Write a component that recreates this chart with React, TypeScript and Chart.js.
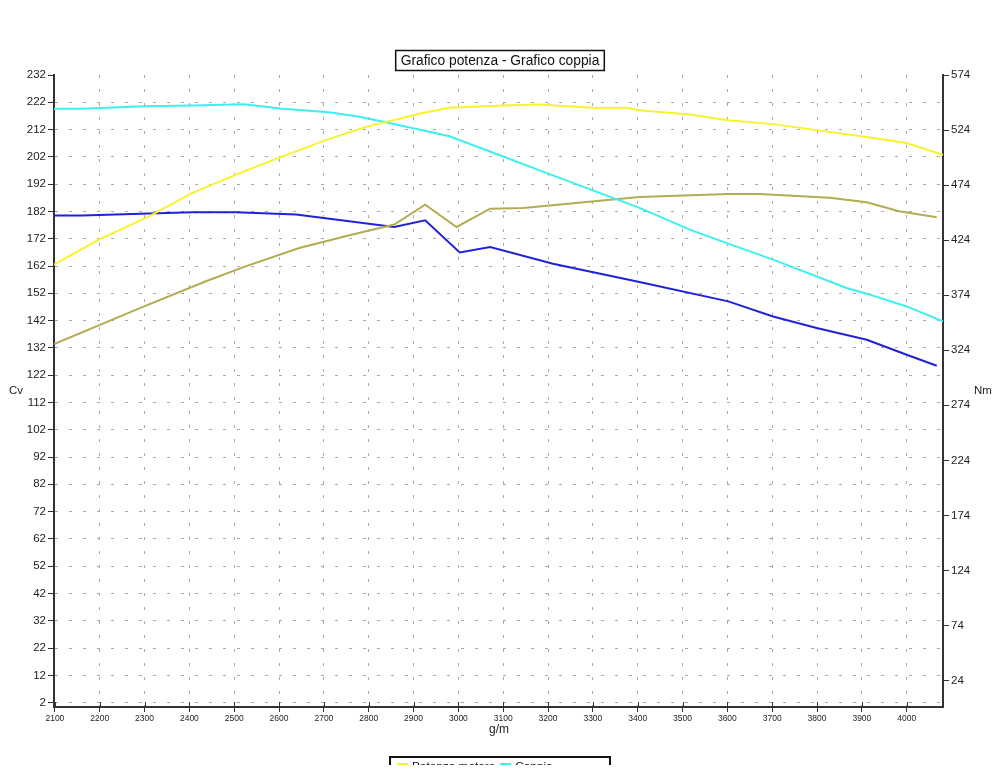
import React, { useEffect, useRef } from "react";
import { Chart, registerables } from "chart.js";

Chart.register(...registerables);

// ---- data ----
const X_TICKS = [2100, 2200, 2300, 2400, 2500, 2600, 2700, 2800, 2900, 3000, 3100, 3200, 3300, 3400, 3500, 3600, 3700, 3800, 3900, 4000];
const CV_TICKS = [2, 12, 22, 32, 42, 52, 62, 72, 82, 92, 102, 112, 122, 132, 142, 152, 162, 172, 182, 192, 202, 212, 222, 232];
const NM_TICKS = [24, 74, 124, 174, 224, 274, 324, 374, 424, 474, 524, 574];

const POTENZA_RPM = [2098, 2198, 2310, 2407, 2522, 2608, 2712, 2794, 2920, 2980, 3099, 3181, 3300, 3375, 3404, 3516, 3602, 3702, 3799, 3911, 4000, 4081];
const POTENZA_CV = [162.5, 171.7, 180.2, 188.8, 196.7, 202.2, 208.6, 213.0, 218.1, 220.0, 220.8, 221.2, 220.0, 220.0, 219.1, 217.5, 215.4, 214.0, 211.8, 209.3, 207.1, 202.8];

const COPPIA_RPM = [2098, 2161, 2299, 2407, 2522, 2608, 2712, 2779, 2846, 2920, 2980, 3069, 3196, 3404, 3516, 3602, 3702, 3866, 3911, 4000, 4081];
const COPPIA_NM = [543.3, 543.3, 545.6, 546.3, 547.5, 543.3, 540.2, 536.0, 530.5, 523.8, 518.4, 504.7, 485.1, 453.3, 433.6, 420.8, 406.3, 380.5, 375.4, 363.8, 350.2];

const POTENZA2_RPM = [2098, 2299, 2437, 2522, 2645, 2757, 2857, 2926, 2996, 3071, 3144, 3404, 3602, 3672, 3828, 3911, 3983, 4067];
const POTENZA2_CV = [133.4, 147.2, 156.4, 161.7, 168.6, 173.3, 177.2, 184.5, 176.3, 183.0, 183.3, 187.3, 188.4, 188.4, 187.0, 185.4, 182.1, 179.9];

const COPPIA2_RPM = [2098, 2161, 2310, 2407, 2504, 2638, 2857, 2926, 3003, 3071, 3211, 3404, 3602, 3702, 3799, 3911, 4000, 4067];
const COPPIA2_NM = [446.3, 446.3, 448.1, 449.3, 449.3, 447.2, 436.0, 442.0, 412.9, 417.8, 402.6, 386.0, 368.4, 354.7, 344.2, 333.5, 319.9, 309.9];

const TITLE = "Grafico potenza - Grafico coppia";
const X_TITLE = "g/m";
const LEFT_TITLE = "Cv";
const RIGHT_TITLE = "Nm";
const LEGEND_LABELS = ["Potenza motore", "Coppia"];

const COL_YELLOW = "#f6f42c";
const COL_CYAN = "#3cf0ee";
const COL_OLIVE = "#b2ac52";
const COL_BLUE = "#2121d8";
const AXIS = "#333333";
const GRID = "#a9a9a9";
const FONT = "'Liberation Sans', Arial, sans-serif";

const pts = (xs: number[], ys: number[]) => xs.map((x, i) => ({ x, y: ys[i] }));

const decorPlugin = {
  id: "decor",
  afterDraw(chart: any) {
    const ctx = chart.ctx as CanvasRenderingContext2D;
    const xs = chart.scales.x;
    const area = chart.chartArea;
    ctx.save();
    // inner part of x tick marks
    ctx.strokeStyle = AXIS;
    ctx.lineWidth = 1;
    ctx.setLineDash([]);
    X_TICKS.forEach((v) => {
      const px = Math.round(xs.getPixelForValue(v)) + 0.5;
      ctx.beginPath();
      ctx.moveTo(px, area.bottom);
      ctx.lineTo(px, area.bottom - 5);
      ctx.stroke();
    });
    // title box
    ctx.font = `13.8px ${FONT}`;
    const tw = ctx.measureText(TITLE).width;
    const bx = 500 - tw / 2 - 5;
    ctx.fillStyle = "#ffffff";
    ctx.fillRect(bx, 50.5, tw + 10, 20);
    ctx.strokeStyle = "#111";
    ctx.lineWidth = 1.5;
    ctx.strokeRect(bx, 50.5, tw + 10, 20);
    ctx.fillStyle = "#111";
    ctx.textAlign = "center";
    ctx.textBaseline = "middle";
    ctx.fillText(TITLE, 500, 61);
    // axis titles
    ctx.font = `11.5px ${FONT}`;
    ctx.fillStyle = "#222";
    ctx.fillText(LEFT_TITLE, 16, 391);
    ctx.fillText(RIGHT_TITLE, 983, 391);
    ctx.font = `12px ${FONT}`;
    ctx.fillText(X_TITLE, 499, 730);
    // legend (clipped at bottom as in picture)
    ctx.beginPath();
    ctx.rect(0, 0, 1000, 765);
    ctx.clip();
    ctx.strokeStyle = "#111";
    ctx.lineWidth = 2;
    ctx.strokeRect(390, 757, 220, 30);
    const cols = [COL_YELLOW, COL_CYAN];
    let x = 397;
    ctx.font = `11.8px ${FONT}`;
    ctx.textAlign = "left";
    ctx.textBaseline = "alphabetic";
    LEGEND_LABELS.forEach((lab, i) => {
      ctx.fillStyle = cols[i];
      ctx.fillRect(x, 763, 11, 4);
      ctx.fillStyle = "#111";
      ctx.fillText(lab, x + 15, 769.5);
      x += 15 + ctx.measureText(lab).width + 5;
    });
    ctx.restore();
  },
};

export default function App() {
  const ref = useRef<HTMLCanvasElement | null>(null);
  useEffect(() => {
    document.body.style.margin = "0";
    if (!ref.current) return;
    const chart = new Chart(ref.current, {
      type: "line",
      data: {
        datasets: [
          { label: LEGEND_LABELS[0], data: pts(POTENZA_RPM, POTENZA_CV), borderColor: COL_YELLOW, yAxisID: "y" },
          { label: LEGEND_LABELS[1], data: pts(COPPIA_RPM, COPPIA_NM), borderColor: COL_CYAN, yAxisID: "y1" },
          { label: "Potenza 2", data: pts(POTENZA2_RPM, POTENZA2_CV), borderColor: COL_OLIVE, yAxisID: "y" },
          { label: "Coppia 2", data: pts(COPPIA2_RPM, COPPIA2_NM), borderColor: COL_BLUE, yAxisID: "y1" },
        ].map((d) => ({ ...d, borderWidth: 2, pointRadius: 0, tension: 0, fill: false })),
      },
      options: {
        animation: false,
        responsive: false,
        devicePixelRatio: 1,
        layout: { padding: { top: 75, left: 0, right: 0, bottom: 0 } },
        plugins: { legend: { display: false }, title: { display: false }, tooltip: { enabled: false } },
        scales: {
          x: {
            type: "linear",
            position: "bottom",
            min: 2098,
            max: 4081,
            afterBuildTicks: (s: any) => { s.ticks = X_TICKS.map((v) => ({ value: v })); },
            afterFit: (s: any) => { s.height = 68; },
            ticks: { font: { family: FONT, size: 8.5 }, color: "#222", padding: 2, maxRotation: 0, autoSkip: false, callback: (v: any) => String(v) },
            grid: { color: GRID, lineWidth: 1, tickLength: 5, tickColor: AXIS, tickWidth: 1, tickBorderDash: [] } as any,
            border: { display: true, color: AXIS, width: 2, dash: [3, 11] },
          },
          y: {
            type: "linear",
            position: "left",
            min: 0.4,
            max: 232,
            afterBuildTicks: (s: any) => { s.ticks = CV_TICKS.map((v) => ({ value: v })); },
            afterFit: (s: any) => { s.width = 54; },
            ticks: { font: { family: FONT, size: 11.5 }, color: "#222", padding: 2, autoSkip: false, callback: (v: any) => String(v) },
            grid: {
              color: (c: any) => (c.tick && c.tick.value === 232 ? "rgba(0,0,0,0)" : GRID),
              lineWidth: 1, tickLength: 6, tickColor: AXIS, tickWidth: 1, tickBorderDash: [],
            } as any,
            border: { display: true, color: AXIS, width: 2, dash: [3, 11] },
          },
          y1: {
            type: "linear",
            position: "right",
            min: 0,
            max: 574,
            afterBuildTicks: (s: any) => { s.ticks = NM_TICKS.map((v) => ({ value: v })); },
            afterFit: (s: any) => { s.width = 57; },
            ticks: { font: { family: FONT, size: 11.5 }, color: "#222", padding: 2, autoSkip: false, callback: (v: any) => String(v) },
            grid: { drawOnChartArea: false, tickLength: 6, tickColor: AXIS, tickWidth: 1, tickBorderDash: [] } as any,
            border: { display: true, color: AXIS, width: 2 },
          },
        },
      } as any,
      plugins: [decorPlugin],
    });
    return () => chart.destroy();
  }, []);
  return (
    <div style={{ position: "relative", width: 1000, height: 775, background: "#fff" }}>
      <canvas ref={ref} width={1000} height={775} style={{ display: "block" }} />
    </div>
  );
}
